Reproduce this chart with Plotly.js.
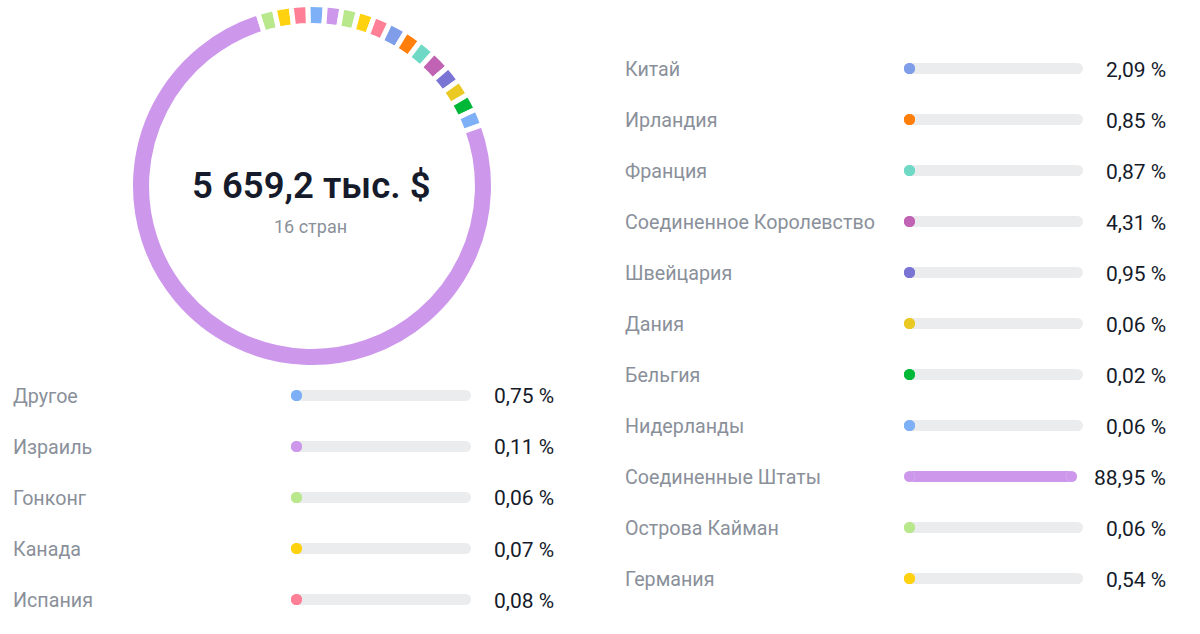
<!DOCTYPE html>
<html>
<head>
<meta charset="utf-8">
<script src="https://cdn.plot.ly/plotly-3.0.1.min.js"></script>
<style>
    html, body { margin: 0; padding: 0; background: #fff; }
    #chart { width: 1200px; height: 634px; }
</style>
</head>
<body>
<div id="chart"></div>
<script>
// ---- данные ----
const totalText = '5 659,2 тыс. $';
const countText = '16 стран';

// правая колонка списка
const rightNames = ['Китай', 'Ирландия', 'Франция', 'Соединенное Королевство', 'Швейцария', 'Дания',
    'Бельгия', 'Нидерланды', 'Соединенные Штаты', 'Острова Кайман', 'Германия'];
const rightShares = [2.09, 0.85, 0.87, 4.31, 0.95, 0.06, 0.02, 0.06, 88.95, 0.06, 0.54];
const rightColors = ['#7f9de8', '#ff7f0a', '#6fd9c6', '#c163b5', '#7a74d5', '#ebc925',
    '#00b838', '#7eb0f7', '#cd98eb', '#b9e78c', '#ffd20f'];

// левая колонка списка
const leftNames = ['Другое', 'Израиль', 'Гонконг', 'Канада', 'Испания'];
const leftShares = [0.75, 0.11, 0.06, 0.07, 0.08];
const leftColors = ['#7eb0f7', '#cd98eb', '#b9e78c', '#ffd20f', '#ff8096'];

// розовый сегмент кольца между «Германия» и «Другое», которого нет в списке (остаток до 100 %)
const hiddenName = '—';
const hiddenShare = 0.17;
const hiddenColor = '#ff8096';

// ---- оформление ----
const W = 1200, H = 634;
const ROW_H = 51;          // шаг строк
const BAR_H = 11;          // толщина полосы
const CAP_R = BAR_H / 2;   // радиус скругления
const PCT_SIZE = 21;
const LABEL_SIZE = 19.7;
const PCT_MIN_W = 66;      // минимальная ширина колонки процентов
const PCT_GAP = 16;
const TEXT_PAD = 3;        // внутренний отступ подписи plotly
const LABEL_COLOR = '#8a909a';
const VALUE_COLOR = '#151b2a';
const TRACK_COLOR = '#ebecee';
const FONT = 'Roboto, "Noto Sans", sans-serif';

// кольцо: мелкие сегменты получают минимальный размер, чтобы были видны
const ARC_FLOOR = 1.73;
const ARC_SLOPE = 0.082;
const RING = { cx: 312, cy: 186, r: 181.5, hole: 0.884, gap: 5, rotation: 25.5 };

const columns = [
    { names: rightNames, shares: rightShares, colors: rightColors,
      labelX: 626, trackX0: 904, trackX1: 1083, pctRight: 1165, rowY0: 68.5, ax: '' },
    { names: leftNames, shares: leftShares, colors: leftColors,
      labelX: 14, trackX0: 291, trackX1: 471, pctRight: 553, rowY0: 395.5, ax: '2' }
];

function fmtPct(p) {
    return p.toFixed(2).replace('.', ',') + ' %';
}

const measureCtx = document.createElement('canvas').getContext('2d');
function textWidth(s, size) {
    measureCtx.font = size + 'px Roboto';
    return measureCtx.measureText(s).width;
}

const maxShare = Math.max(...rightShares, ...leftShares);

function arcValue(p) {
    return p === maxShare ? p : ARC_FLOOR + p * ARC_SLOPE;
}

const traces = [];
const annotations = [];
const layout = {
    width: W, height: H,
    margin: { l: 0, r: 0, t: 0, b: 0 },
    paper_bgcolor: '#fff', plot_bgcolor: 'rgba(0,0,0,0)',
    showlegend: false,
    barmode: 'overlay',
    bargap: 0,
    annotations: annotations
};

// ---- кольцо ----
const ringNames = [...rightNames, hiddenName, ...leftNames];
const ringShares = [...rightShares, hiddenShare, ...leftShares];
const ringColors = [...rightColors, hiddenColor, ...leftColors];

traces.push({
    type: 'pie',
    labels: ringNames,
    values: ringShares.map(arcValue),
    sort: false,
    direction: 'clockwise',
    rotation: RING.rotation,
    hole: RING.hole,
    textinfo: 'none',
    hoverinfo: 'skip',
    marker: { colors: ringColors, line: { color: '#ffffff', width: RING.gap } },
    domain: {
        x: [(RING.cx - RING.r) / W, (RING.cx + RING.r) / W],
        y: [(H - RING.cy - RING.r) / H, (H - RING.cy + RING.r) / H]
    }
});

annotations.push({
    xref: 'paper', yref: 'paper', x: 311 / W, y: (H - 186) / H,
    text: totalText, showarrow: false, xanchor: 'center', yanchor: 'middle',
    font: { family: FONT, size: 36.5, weight: 600, color: VALUE_COLOR }
});
annotations.push({
    xref: 'paper', yref: 'paper', x: 310.5 / W, y: (H - 226) / H,
    text: countText, showarrow: false, xanchor: 'center', yanchor: 'middle',
    font: { family: FONT, size: 18, color: LABEL_COLOR }
});

// ---- полосы ----
columns.forEach(col => {
    const n = col.names.length;
    const xa = 'xaxis' + col.ax, ya = 'yaxis' + col.ax;
    const xr = 'x' + col.ax, yr = 'y' + col.ax;
    const top = col.rowY0 - ROW_H / 2;
    const fullLen = col.trackX1 - col.trackX0;

    layout[xa] = {
        domain: [col.trackX0 / W, col.trackX1 / W], range: [0, fullLen],
        showgrid: false, zeroline: false, showticklabels: false, showline: false,
        fixedrange: true, anchor: yr
    };
    layout[ya] = {
        domain: [(H - top - n * ROW_H) / H, (H - top) / H], range: [n - 0.5, -0.5],
        showgrid: false, zeroline: false, showticklabels: false, showline: false,
        fixedrange: true, anchor: xr
    };

    const rows = col.names.map((_, i) => i);
    const pctTexts = col.shares.map(fmtPct);
    // длинная подпись процентов сдвигает конец дорожки влево
    const trackLen = pctTexts.map(t =>
        Math.min(fullLen, col.pctRight - Math.max(PCT_MIN_W, textWidth(t, PCT_SIZE)) - PCT_GAP - col.trackX0));
    const fillLen = col.shares.map((p, i) => Math.max(BAR_H, p / maxShare * trackLen[i]));

    // прямая часть полосы
    const body = (len, colors) => ({
        type: 'bar', orientation: 'h', xaxis: xr, yaxis: yr,
        y: rows, base: len.map(() => CAP_R), x: len.map(v => Math.max(0, v - 2 * CAP_R)),
        width: BAR_H / ROW_H,
        marker: { color: colors, line: { width: 0 } },
        hoverinfo: 'skip'
    });
    // скруглённые концы — круглые маркеры
    const caps = (len, colors) => ({
        type: 'scatter', mode: 'markers', xaxis: xr, yaxis: yr,
        x: [...len.map(() => CAP_R), ...len.map(v => Math.max(CAP_R, v - CAP_R))],
        y: [...rows, ...rows],
        marker: { size: BAR_H, color: Array.isArray(colors) ? [...colors, ...colors] : colors,
                  line: { width: 0 } },
        hoverinfo: 'skip'
    });
    traces.push(body(trackLen, TRACK_COLOR), caps(trackLen, TRACK_COLOR));
    traces.push(body(fillLen, col.colors), caps(fillLen, col.colors));

    col.names.forEach((name, i) => {
        annotations.push({
            xref: 'paper', yref: yr, x: (col.labelX - TEXT_PAD) / W, y: i, yshift: -1,
            text: name, showarrow: false, xanchor: 'left', yanchor: 'middle',
            font: { family: FONT, size: LABEL_SIZE, color: LABEL_COLOR }
        });
        annotations.push({
            xref: 'paper', yref: yr, x: (col.pctRight + TEXT_PAD) / W, y: i, yshift: -1,
            text: pctTexts[i], showarrow: false, xanchor: 'right', yanchor: 'middle',
            font: { family: FONT, size: PCT_SIZE, color: VALUE_COLOR }
        });
    });
});

Plotly.newPlot('chart', traces, layout, { displayModeBar: false, staticPlot: true });
</script>
</body>
</html>
